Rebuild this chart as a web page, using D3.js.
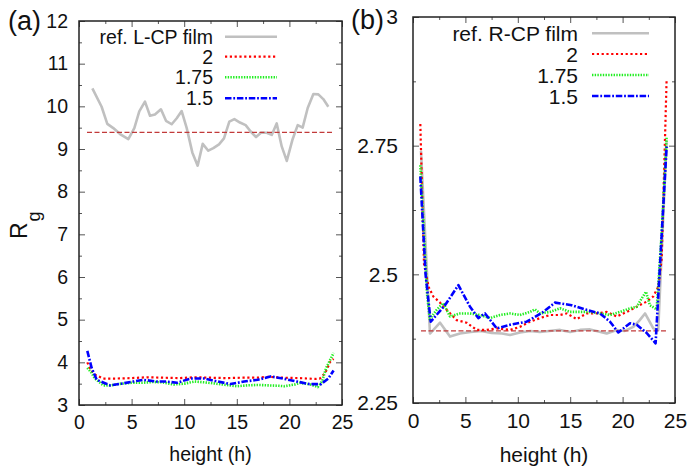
<!DOCTYPE html>
<html>
<head>
<meta charset="utf-8">
<script src="https://cdn.jsdelivr.net/npm/d3@7"></script>
<style>
  html, body { margin: 0; padding: 0; background: #fff; }
  svg { display: block; }
  text { font-family: "Liberation Sans", Arial, Helvetica, sans-serif; fill: #111; }
</style>
</head>
<body>
<svg id="chart" width="690" height="470"></svg>
<script>
// ---------------- data ----------------
// Panel (a): L-CP
const refLX = [1.27,2.15,2.69,3.26,3.9,4.69,5.26,5.73,6.27,6.75,7.22,7.79,8.27,8.81,9.29,9.76,10.24,10.77,11.28,11.76,12.29,12.77,13.31,13.78,14.29,14.77,15.3,15.84,16.32,16.83,17.3,17.84,18.32,18.79,19.27,19.75,20.28,20.79,21.26,21.74,22.28,22.75,23.22,23.7];
const refLY = [10.42,9.99,9.59,9.49,9.35,9.23,9.49,9.88,10.11,9.78,9.81,9.93,9.66,9.58,9.72,9.89,9.49,8.92,8.61,9.12,8.96,9.02,9.11,9.25,9.64,9.70,9.62,9.56,9.41,9.28,9.38,9.38,9.33,9.6,9.06,8.72,9.21,9.56,9.5,9.96,10.29,10.28,10.17,9.99];
const a2X = [0.79,1.1,1.52,2.31,3.5,5,6.5,8,9.5,11,12.5,14,15.5,17,18,19.5,21,22.5,22.9,23.4,23.9,24.2];
const a2Y = [4.0,3.82,3.71,3.62,3.62,3.63,3.65,3.64,3.63,3.65,3.64,3.63,3.64,3.64,3.66,3.64,3.63,3.61,3.62,3.75,4.02,4.08];
const a175X = [0.79,1.2,1.52,2.31,3,4,5,6,7,8,9,10,11,12,13,14,15,16,17,18,19,19.5,20.5,21,22,22.7,23.1,23.5,24.2];
const a175Y = [3.87,3.75,3.62,3.46,3.46,3.5,3.52,3.52,3.54,3.53,3.48,3.5,3.55,3.53,3.5,3.47,3.44,3.46,3.47,3.46,3.45,3.44,3.48,3.52,3.48,3.42,3.55,3.87,4.22];
const a15X = [0.79,1.2,1.68,2.95,4,5.16,6.1,7.4,8.3,9.3,10.6,11.9,13.2,14.4,15.7,17.0,18.2,19.4,20.7,21.9,23.0,23.7,24.2];
const a15Y = [4.27,3.87,3.59,3.46,3.5,3.55,3.59,3.55,3.55,3.52,3.62,3.62,3.55,3.49,3.55,3.59,3.67,3.62,3.55,3.49,3.49,3.62,3.81];
const refLineA = [9.39];

// Panel (b): R-CP
const refRX = [0.76,1.62,2.58,3.53,4.48,5.5,6.5,7.5,8.5,9.26,10.2,11.2,12.1,13,14.03,15,15.94,16.89,17.5,18.48,19.44,20.2,21.03,21.6,22.14,22.93,23.4,24.2];
const refRY = [2.74,2.385,2.406,2.379,2.385,2.388,2.39,2.386,2.385,2.382,2.387,2.39,2.388,2.39,2.392,2.388,2.392,2.393,2.39,2.385,2.392,2.39,2.398,2.41,2.424,2.395,2.392,2.76];
const b2X = [0.7,1.05,1.5,1.94,2.58,3.21,4.17,5.12,6.08,7.03,7.99,9.26,10.21,11.16,12.12,13.07,14.03,14.67,15.62,16.57,17.53,18.48,19.44,20.39,21.35,22.3,22.93,23.41,23.73,24.2];
const b2Y = [2.792,2.52,2.475,2.457,2.445,2.431,2.411,2.406,2.392,2.392,2.395,2.392,2.398,2.408,2.415,2.421,2.421,2.424,2.413,2.424,2.424,2.427,2.418,2.427,2.437,2.447,2.457,2.476,2.53,2.879];
const b175X = [0.7,1.35,1.6,2.26,2.89,3.53,4.48,5.44,6.39,7.35,8.3,9.26,10.21,11.16,11.64,12.12,13.07,14.03,14.98,15.94,16.89,17.84,18.8,19.75,20.71,21.35,21.82,22.23,22.6,23.25,23.73,24.2];
const b175Y = [2.712,2.46,2.413,2.431,2.444,2.418,2.424,2.424,2.421,2.415,2.421,2.424,2.421,2.427,2.432,2.424,2.427,2.434,2.427,2.427,2.427,2.424,2.421,2.427,2.434,2.437,2.453,2.466,2.44,2.432,2.58,2.767];
const b15X = [0.7,1.2,1.69,3.05,4.33,5.44,6.23,6.87,7.99,9.26,10.85,12.44,13.55,15.14,16.57,17.84,18.8,19.59,20.71,21.35,22.3,23.15,24.2];
const b15Y = [2.69,2.5,2.408,2.44,2.479,2.437,2.415,2.424,2.395,2.402,2.408,2.427,2.445,2.44,2.431,2.424,2.408,2.387,2.405,2.402,2.386,2.366,2.748];
const refLineB = [2.39];

// ticks
const xTicks = [0,5,10,15,20,25];
const xMinor = [2.5,7.5,12.5,17.5,22.5];
const yTicksA = [3,4,5,6,7,8,9,10,11,12];
const yMinorA = [3.5,4.5,5.5,6.5,7.5,8.5,9.5,10.5,11.5];
const yTicksB = [2.25,2.5,2.75,3];
const yMinorB = [2.375,2.625,2.875];

const legendA = ["ref. L-CP film","2","1.75","1.5"];
const legendB = ["ref. R-CP film","2","1.75","1.5"];

// ---------------- styles ----------------
const styles = [
  {color:"#c0c0c0", width:2.6, dash:null},
  {color:"#ff0000", width:2.2, dash:"2.2,2.6"},
  {color:"#22ee22", width:2.6, dash:"1.4,1.3"},
  {color:"#0000ff", width:2.6, dash:"6.5,1.8,1.8,1.8"}
];

const svg = d3.select("#chart");

function panel(cfg) {
  const x = d3.scaleLinear().domain([0,25]).range([cfg.left, cfg.right]);
  const y = d3.scaleLinear().domain(cfg.yDomain).range([cfg.bottom, cfg.top]);
  const g = svg.append("g");
  const fs = cfg.fs;

  function styleAxis(sel) {
    sel.select(".domain").remove();
    sel.selectAll(".tick line").attr("stroke", "#555").attr("stroke-width", 1);
    sel.selectAll(".tick text").style("font-size", fs + "px").attr("fill", "#111");
  }

  // major axes
  g.append("g").attr("transform", `translate(0,${cfg.bottom})`)
    .call(d3.axisBottom(x).tickValues(xTicks).tickFormat(d => String(d)).tickSize(-6).tickPadding(cfg.xPad))
    .call(styleAxis);
  g.append("g").attr("transform", `translate(0,${cfg.top})`)
    .call(d3.axisTop(x).tickValues(xTicks).tickFormat("").tickSize(-6))
    .call(styleAxis);
  g.append("g").attr("transform", `translate(${cfg.left},0)`)
    .call(d3.axisLeft(y).tickValues(cfg.yTicks).tickFormat(d => String(d)).tickSize(-6).tickPadding(cfg.yPad))
    .call(styleAxis);
  g.append("g").attr("transform", `translate(${cfg.right},0)`)
    .call(d3.axisRight(y).tickValues(cfg.yTicks).tickFormat("").tickSize(-6))
    .call(styleAxis);
  // minor axes
  g.append("g").attr("transform", `translate(0,${cfg.bottom})`)
    .call(d3.axisBottom(x).tickValues(xMinor).tickFormat("").tickSize(-3)).call(styleAxis);
  g.append("g").attr("transform", `translate(0,${cfg.top})`)
    .call(d3.axisTop(x).tickValues(xMinor).tickFormat("").tickSize(-3)).call(styleAxis);
  g.append("g").attr("transform", `translate(${cfg.left},0)`)
    .call(d3.axisLeft(y).tickValues(cfg.yMinor).tickFormat("").tickSize(-3)).call(styleAxis);
  g.append("g").attr("transform", `translate(${cfg.right},0)`)
    .call(d3.axisRight(y).tickValues(cfg.yMinor).tickFormat("").tickSize(-3)).call(styleAxis);

  // frame
  g.append("rect").attr("x", cfg.left).attr("y", cfg.top)
    .attr("width", cfg.right - cfg.left).attr("height", cfg.bottom - cfg.top)
    .attr("fill", "none").attr("stroke", "#222").attr("stroke-width", 1.5);

  const line = d3.line().x(d => x(d[0])).y(d => y(d[1]));
  const series = cfg.series;

  function drawSeries(i) {
    const s = series[i];
    const pts = s.x.map((v, k) => [v, s.y[k]]);
    g.append("path").datum(pts).attr("d", line)
      .attr("fill", "none").attr("stroke", styles[i].color)
      .attr("stroke-width", styles[i].width)
      .attr("stroke-dasharray", styles[i].dash)
      .attr("stroke-linejoin", "round");
  }
  drawSeries(0);
  // dashed horizontal reference level
  g.append("line")
    .attr("x1", x(cfg.refSpan[0])).attr("x2", x(cfg.refSpan[1]))
    .attr("y1", y(cfg.refLine[0])).attr("y2", y(cfg.refLine[0]))
    .attr("stroke", "#c23a3a").attr("stroke-width", 1.2).attr("stroke-dasharray", "5,2.5");
  drawSeries(1); drawSeries(2); drawSeries(3);

  // legend
  cfg.legend.forEach((lab, i) => {
    const yy = cfg.legRows[i];
    g.append("text").attr("x", cfg.legTextX).attr("y", yy)
      .attr("text-anchor", "end").attr("dominant-baseline", "central")
      .style("font-size", fs + "px").text(lab);
    g.append("line").attr("x1", cfg.legLine[0]).attr("x2", cfg.legLine[1])
      .attr("y1", yy).attr("y2", yy)
      .attr("stroke", styles[i].color).attr("stroke-width", styles[i].width)
      .attr("stroke-dasharray", styles[i].dash);
  });

  // x label
  g.append("text").attr("x", (cfg.left + cfg.right) / 2).attr("y", cfg.xLabelY)
    .attr("text-anchor", "middle").style("font-size", fs + "px").text("height (h)");

  // panel tag
  g.append("text").attr("x", cfg.tagX).attr("y", cfg.tagY)
    .style("font-size", cfg.tagFs + "px").text(cfg.tag);
}

panel({
  left: 79, right: 342, top: 21, bottom: 405,
  yDomain: [3, 12], yTicks: yTicksA, yMinor: yMinorA,
  fs: 19.5, xPad: 10, yPad: 11,
  series: [{x: refLX, y: refLY}, {x: a2X, y: a2Y}, {x: a175X, y: a175Y}, {x: a15X, y: a15Y}],
  refLine: refLineA, refSpan: [0.76, 24.25],
  legend: legendA, legRows: [36.7, 56.7, 77.3, 98.3], legTextX: 213, legLine: [225, 277],
  xLabelY: 461, tag: "(a)", tagX: 8, tagY: 30, tagFs: 27
});

panel({
  left: 413, right: 675, top: 17, bottom: 403,
  yDomain: [2.25, 3], yTicks: yTicksB, yMinor: yMinorB,
  fs: 21, xPad: 10, yPad: 15,
  series: [{x: refRX, y: refRY}, {x: b2X, y: b2Y}, {x: b175X, y: b175Y}, {x: b15X, y: b15Y}],
  refLine: refLineB, refSpan: [0.76, 24.25],
  legend: legendB, legRows: [33.3, 54, 75, 96], legTextX: 578, legLine: [592, 649],
  xLabelY: 462, tag: "(b)", tagX: 351, tagY: 29, tagFs: 27
});

// y label R_g
const yl = svg.append("text").attr("transform", "translate(27,239) rotate(-90)")
  .attr("text-anchor", "start");
yl.append("tspan").style("font-size", "23px").text("R");
yl.append("tspan").style("font-size", "18px").attr("dx", 1).attr("dy", 13).text("g");
</script>
</body>
</html>
